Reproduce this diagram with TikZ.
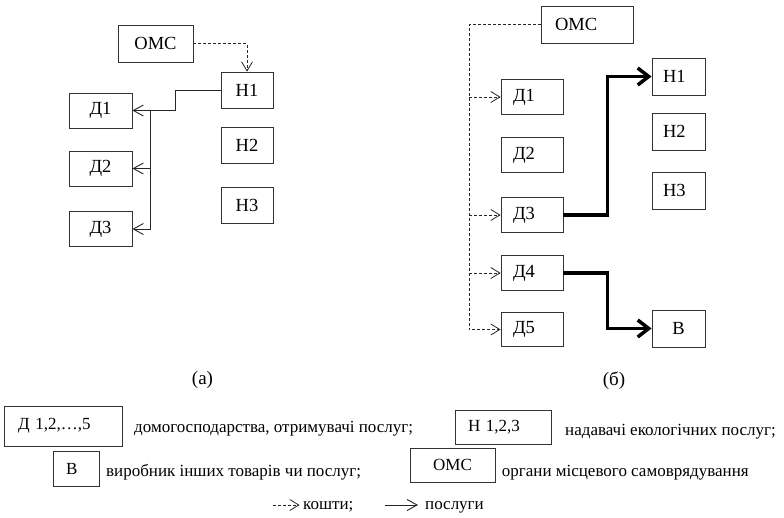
\documentclass[tikz,border=0pt]{standalone}
\usepackage{fontspec}
\setmainfont{Liberation Serif}
\usetikzlibrary{arrows.meta}
\begin{document}
\begin{tikzpicture}[x=1pt,y=-1pt,
  box/.style={draw=black!80, line width=0.9pt, inner sep=0pt, font=\fontsize{18.5}{20}\selectfont},
  dB/.style={minimum height=34.5pt, inner xsep=12pt, text width=38pt, align=left},
  hB/.style={minimum height=37pt, inner xsep=11pt, text width=31pt, align=left},
  lbox/.style={draw=black!80, line width=0.9pt, inner sep=0pt, font=\fontsize{17}{19}\selectfont},
  ltext/.style={anchor=base west, inner sep=0pt, font=\fontsize{17}{19}\selectfont},
  caption/.style={inner sep=0pt, font=\fontsize{19}{21}\selectfont},
  money/.style={draw=black!85, line width=0.8pt, dash pattern=on 3pt off 2pt, -{Straight Barb[length=9pt,width=11pt]}},
  serv/.style={draw=black!85, line width=0.9pt, -{Straight Barb[length=10pt,width=11pt]}},
  bigserv/.style={draw=black, line width=3.5pt, -{Straight Barb[length=11pt,width=17pt]}},
]
\useasboundingbox (0,0) rectangle (784,517);

% ---------- (a) ----------
\node[box, minimum width=75pt, minimum height=37pt] (omsA) at (155.5,43.5) {ОМС};
\node[box, minimum width=52pt, minimum height=36pt] (h1A) at (247,90) {Н1};
\node[box, minimum width=52pt, minimum height=36pt] (h2A) at (247,145.5) {Н2};
\node[box, minimum width=52pt, minimum height=36pt] (h3A) at (247,205) {Н3};
\node[box, minimum width=63pt, minimum height=35pt] (d1A) at (100.5,110.5) {Д1};
\node[box, minimum width=63pt, minimum height=35pt] (d2A) at (100.5,168.5) {Д2};
\node[box, minimum width=63pt, minimum height=35pt] (d3A) at (100.5,229) {Д3};

\draw[money] (omsA.east) -| (h1A.north);
\draw[serv] (h1A.west) -- ++(-45,0) |- (d1A.east);
\coordinate (jA) at (150,110.5);
\draw[serv] (jA) |- (d2A.east);
\draw[serv] (jA) |- (d3A.east);

\node[caption] (labA) at (202.5,380) {(а)};

% ---------- (б) ----------
\node[box, minimum height=37pt, inner xsep=14pt, text width=64pt, align=left] (omsB) at (587,24.5) {ОМС};
\node[box, hB] (h1B) at (678.5,76.5) {Н1};
\node[box, hB] (h2B) at (678.5,131.5) {Н2};
\node[box, hB] (h3B) at (678.5,190.5) {Н3};
\node[box, minimum width=53pt, minimum height=37pt] (bB) at (678.5,328.5) {В};
\node[box, dB] (d1B) at (532,97) {Д1};
\node[box, dB] (d2B) at (532,155) {Д2};
\node[box, dB] (d3B) at (532,215) {Д3};
\node[box, dB] (d4B) at (532,273) {Д4};
\node[box, dB] (d5B) at (532,329.5) {Д5};

\coordinate (jB) at (469,24.5);
\draw[money] (omsB.west) -- (jB) |- (d5B.west);
\draw[money] (jB |- d1B.west) -- (d1B.west);
\draw[money] (jB |- d3B.west) -- (d3B.west);
\draw[money] (jB |- d4B.west) -- (d4B.west);

\draw[bigserv] (d3B.east) -- ++(44,0) |- (h1B.west);
\draw[bigserv] (d4B.east) -- ++(44,0) |- (bB.west);

\node[caption] (labB) at (614,381) {(б)};

% ---------- legend ----------
\node[lbox, minimum height=40pt, inner xsep=14pt, text width=90pt, align=left] (lgD) at (63,426) {Д 1,2,…,5};
\node[ltext] (lgDt) at (134,432.7) {домогосподарства, отримувачі послуг;};
\node[lbox, minimum height=34pt, inner xsep=13pt, text width=70pt, align=left] (lgH) at (503,427) {Н 1,2,3};
\node[ltext] (lgHt) at (565,435) {надавачі екологічних послуг;};
\node[lbox, minimum height=35pt, inner xsep=13pt, text width=20pt, align=left] (lgB) at (76,468.5) {В};
\node[ltext] (lgBt) at (106,476) {виробник інших товарів чи послуг;};
\node[lbox, minimum width=85pt, minimum height=34pt] (lgO) at (452.5,465.3) {ОМС};
\node[ltext] (lgOt) at (501.7,476.7) {органи місцевого самоврядування};

\coordinate (m1) at (272.5,505);
\coordinate (m2) at (299.5,505);
\draw[money] (m1) -- (m2);
\node[ltext] (lgM) at (303,509) {кошти;};
\coordinate (s1) at (385,505);
\coordinate (s2) at (418,505);
\draw[serv] (s1) -- (s2);
\node[ltext] (lgS) at (425,509) {послуги};
\end{tikzpicture}
\end{document}
